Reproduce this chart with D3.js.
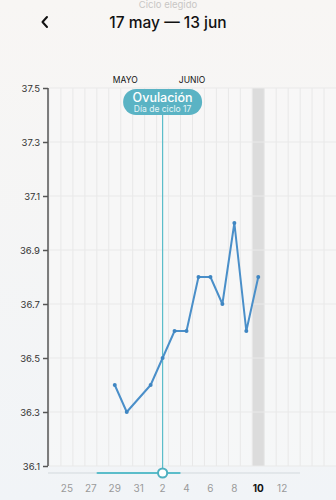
<!DOCTYPE html>
<html><head><meta charset="utf-8">
<script src="https://cdn.jsdelivr.net/npm/d3@7"></script>
<style>
html,body{margin:0;padding:0;width:336px;height:500px;overflow:hidden;}
body{background:linear-gradient(#f8f6f4,#f1f4f7);font-family:Inter,"Noto Sans",sans-serif;}
</style></head>
<body>
<svg id="c" width="336" height="500"></svg>
<script>
const days = ["24","25","26","27","28","29","30","31","1","2","3","4","5","6","7","8","9","10","11","12","13","14","15","16"];
const tickLabels = ["25","27","29","31","2","4","6","8","10","12"];
const tempDays = ["29","30","31","1","2","3","4","5","6","7","8","9","10"];
const temps = [36.4,36.3,null,36.4,36.5,36.6,36.6,36.8,36.8,36.7,37.0,36.6,36.8];
const yTicks = [37.5,37.3,37.1,36.9,36.7,36.5,36.3,36.1];
const ovulationDay = "2";
const todayDay = "10";
const monthLabels = [{label:"MAYO", day:"30"},{label:"JUNIO", day:"4"}];

const svg = d3.select("#c");
const x = d3.scaleBand().domain(days).range([49,336]).paddingInner(0).paddingOuter(0);
const y = d3.scaleLinear().domain([36.1,37.5]).range([466,88]);
const cx = d => x(d) + x.bandwidth()/2;

// header
svg.append("text").attr("x",168).attr("y",8).attr("text-anchor","middle")
  .attr("font-size",9.5).attr("fill","#c8c6c4").text("Ciclo elegido");
svg.append("text").attr("x",168).attr("y",28).attr("text-anchor","middle")
  .attr("font-size",15.5).attr("font-weight",500).attr("fill","#111").text("17 may — 13 jun");
svg.append("path").attr("d","M47,17 L42.5,22 L47,27").attr("fill","none")
  .attr("stroke","#111").attr("stroke-width",2).attr("stroke-linecap","round").attr("stroke-linejoin","round");

// plot background
svg.append("rect").attr("x",49).attr("y",88).attr("width",287).attr("height",378).attr("fill","#f9f9f9").attr("opacity",0.6);
// today column
svg.append("rect").attr("x",x(todayDay)).attr("y",88).attr("width",x.bandwidth()).attr("height",378).attr("fill","#dcdcdc");

// vertical grid at day boundaries
svg.append("g").selectAll("line").data(days).join("line")
  .attr("x1",d=>x(d)).attr("x2",d=>x(d)).attr("y1",88).attr("y2",466)
  .attr("stroke","#e8e8e8").attr("stroke-width",1);
// horizontal grid
svg.append("g").selectAll("line").data(yTicks).join("line")
  .attr("x1",49).attr("x2",336).attr("y1",d=>y(d)).attr("y2",d=>y(d))
  .attr("stroke","#e9e9e9").attr("stroke-width",1);

// y axis
const yAxis = d3.axisLeft(y).tickValues(yTicks).tickSize(5).tickPadding(3).tickFormat(d3.format(".1f"));
const ga = svg.append("g").attr("transform","translate(48,0)").call(yAxis);
ga.select(".domain").attr("stroke","#555").attr("stroke-width",1.5).attr("d","M0,88V466");
ga.selectAll(".tick line").attr("stroke","#555").attr("stroke-width",1.5);
ga.selectAll(".tick text").attr("font-size",9.5).attr("fill","#333").attr("font-family","Inter,sans-serif");

// month labels
svg.append("g").selectAll("text").data(monthLabels).join("text")
  .attr("x",(d,i)=>cx(d.day)+(i===0?-1.5:5.5)).attr("y",83).attr("text-anchor","middle")
  .attr("font-size",8.5).attr("fill","#111").text(d=>d.label);

// ovulation line
svg.append("line").attr("x1",cx(ovulationDay)).attr("x2",cx(ovulationDay)).attr("y1",110).attr("y2",473)
  .attr("stroke","#5bbdca").attr("stroke-width",1.2);

// slider
svg.append("line").attr("x1",48).attr("x2",300).attr("y1",473).attr("y2",473).attr("stroke","#d3d9dd").attr("stroke-width",1);
svg.append("line").attr("x1",cx(ovulationDay)-65).attr("x2",cx(ovulationDay)+17).attr("y1",473).attr("y2",473)
  .attr("stroke","#5bbdca").attr("stroke-width",2.2).attr("stroke-linecap","round");
svg.append("circle").attr("cx",cx(ovulationDay)).attr("cy",473).attr("r",4.6)
  .attr("fill","#fff").attr("stroke","#4fb0c0").attr("stroke-width",2);

// temperature line
const pts = tempDays.map((d,i)=>({d,v:temps[i]})).filter(p=>p.v!=null);
svg.append("path").datum(pts)
  .attr("d",d3.line().x(p=>cx(p.d)).y(p=>y(p.v)))
  .attr("fill","none").attr("stroke","#4a8fc9").attr("stroke-width",2).attr("stroke-linejoin","round");
svg.append("g").selectAll("circle").data(pts).join("circle")
  .attr("cx",p=>cx(p.d)).attr("cy",p=>y(p.v)).attr("r",2).attr("fill","#3f86c2");

// ovulation pill
const pg = svg.append("g");
pg.append("rect").attr("x",cx(ovulationDay)-39.5).attr("y",89).attr("width",79).attr("height",26).attr("rx",13)
  .attr("fill","#5ab3c4");
pg.append("text").attr("x",cx(ovulationDay)).attr("y",102).attr("text-anchor","middle")
  .attr("font-size",12.5).attr("font-weight",500).attr("fill","#fff").text("Ovulación");
pg.append("text").attr("x",cx(ovulationDay)).attr("y",112).attr("text-anchor","middle")
  .attr("font-size",8.5).attr("fill","#e4f4f7").text("Día de ciclo 17");

// x tick labels
svg.append("g").selectAll("text").data(tickLabels).join("text")
  .attr("x",d=>cx(d)).attr("y",492).attr("text-anchor","middle")
  .attr("font-size",10).attr("fill",d=>d===todayDay?"#111":"#9a9a9a").attr("font-weight",d=>d===todayDay?700:400)
  .text(d=>d);
</script>
</body></html>
